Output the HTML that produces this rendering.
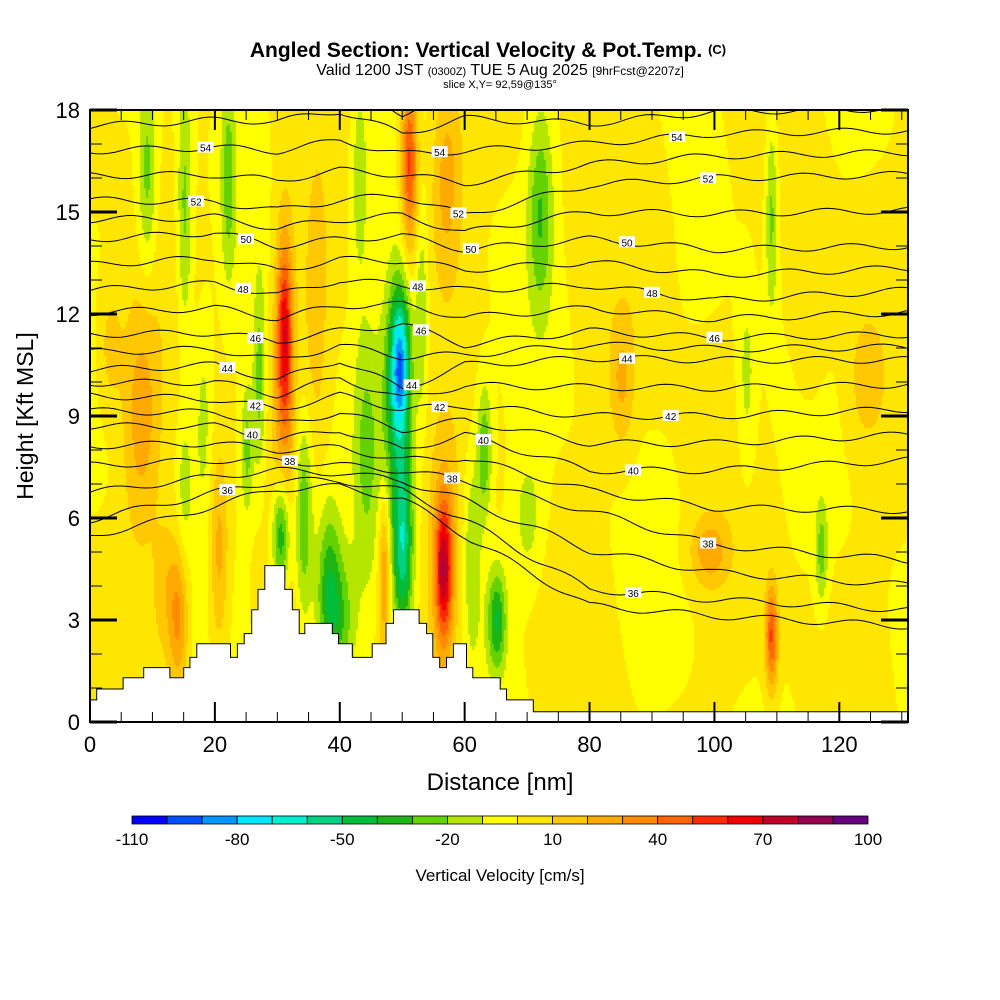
<!DOCTYPE html>
<html><head><meta charset="utf-8"><style>
body{margin:0;background:#fff;width:1000px;height:1000px;overflow:hidden;font-family:"Liberation Sans",sans-serif}
#wrap{position:relative;width:1000px;height:1000px}
canvas{position:absolute;left:90px;top:110px}
svg{position:absolute;left:0;top:0}
</style></head><body>
<div id="wrap">
<canvas id="field" width="818" height="612"></canvas>
<svg id="svg" width="1000" height="1000"></svg>
</div>
<script>
// ---- data ----
const xMax = 131, yMax = 18;
const baseValue = 1;
const featX = [9,8,15,15,14,22,20.5,31,31,30.5,34,38,47,36,49.5,49,50,51,56.5,56.5,65,63,57,72,43,85,99,109,109,117,61,3,124,25,105,27,44,53,40,18,12,70,90,115];
const featY = [16,9,15,7,3,16,5,11.5,9,5.5,6,4,4.5,12,10.5,9,5,16.5,4.5,4.5,3,8,16,15,16,10,5,2.5,15,5,5,11,10,8,10,10,8,12,3,9,4,6,14,12];
const featW = [1.5,3,1.2,1.2,1.5,1.2,1.5,1.2,2,1.5,1.5,2,1,2,1.5,2.5,1.5,1.3,1.3,2.5,1.5,1.2,2.5,2,1.5,2,3,1,1,1,1.5,2,3,1,1.5,1,2,1,2.5,1.5,2,2.5,3,3];
const featH = [3,3.5,4,2,2,3,3,2.5,6,1.8,3,2.5,2.5,4,2,4.5,2.5,2.5,2,3.5,1.5,2,3,3,3,2,1,1.5,3,1.5,3,2,2,2,3,3,4,3,2,3,2,2,3,3];
const featV = [-25,25,-25,-15,30,-25,25,50,25,-55,-35,-35,35,15,-65,-35,-45,55,55,25,-40,-30,25,-30,-20,20,25,50,-25,-25,-20,15,12,-25,-15,-25,-20,-20,-25,-15,15,-15,8,8];
const terrainX = [0,1.07,5.3,8.6,12.8,15,16,17.1,22.5,23.6,24.7,25.9,26.9,28,31.2,32.4,33.5,34.4,38.8,39.8,42,45.2,47.4,48.6,52.7,53.9,54.9,56,57.1,58.2,60.3,61.3,65.7,66.7,71,131];
const terrainH = [0.65,0.97,1.3,1.6,1.3,1.6,1.9,2.3,1.9,2.3,2.6,3.3,3.9,4.6,3.9,3.3,2.6,2.9,2.6,2.3,1.9,2.3,2.9,3.3,2.9,2.6,1.9,1.6,1.9,2.3,1.6,1.3,0.97,0.65,0.3,0.3];
const thetaNodes = [0,20,30,40,50,60,80,100,131];
const thetaLevels = [36,38,40,42,44,46,48,50,52,54];
const theta36 = [5.95,6.75,7.1,7.1,6.8,5.95,3.9,3.6,3.3];
const theta38 = [7.55,7.7,7.7,7.55,7.4,7.1,6.2,5.2,4.75];
const theta40 = [8.7,8.7,8.3,8.6,8.0,8.45,7.4,7.4,7.7];
const theta42 = [9.6,9.5,9.2,9.6,9.2,9.3,9.0,9.0,9.2];
const theta44 = [10.35,10.5,10.05,10.65,9.8,10.5,10.7,10.65,10.65];
const theta46 = [11.4,11.45,11.2,11.5,11.7,11.1,11.5,11.3,11.4];
const theta48 = [12.7,12.9,12.55,13.0,12.85,12.7,12.85,12.4,12.7];
const theta50 = [14.2,14.4,14.0,14.2,14.3,13.9,14.2,13.9,14.0];
const theta52 = [15.35,15.3,15.05,15.35,15.5,14.9,15.8,16.0,16.1];
const theta54 = [16.8,16.9,16.8,17.1,16.7,16.8,17.0,17.3,17.4];
const labelLevel = [54,52,50,48,46,44,42,40,38,36,54,52,50,48,46,44,42,40,38,54,52,50,48,46,44,42,40,38,36];
const labelX = [18.5,17,25,24.5,26.5,22,26.5,26,32,22,56,59,61,52.5,53,51.5,56,63,58,94,99,86,90,100,86,93,87,99,87];
const cbLabels = [-110,-80,-50,-20,10,40,70,100];
const palette = ["#0000ff","#0050ff","#0096ff","#00e6ff","#00f0d2","#00d282","#00be3c","#1eb414","#64d200","#b4e600","#ffff00","#ffe600","#ffc800","#ffaa00","#ff8c00","#ff6400","#ff2800","#f00000","#c00028","#960050","#640080"];
// ---- scales ----
const X0=90,X1=908,Y0=722,Y1=110;
const sx = v => X0 + v/xMax*(X1-X0);
const sy = v => Y0 - v/yMax*(Y0-Y1);
const NS='http://www.w3.org/2000/svg';
const svg=document.getElementById('svg');
function mk(tag,attrs,parent){const e=document.createElementNS(NS,tag);for(const k in attrs)e.setAttribute(k,attrs[k]);(parent||svg).appendChild(e);return e;}
function colorFor(v){let i=Math.floor((v+110)/10);i=Math.max(0,Math.min(20,i));return palette[i];}
// ---- field ----
const ctx=document.getElementById('field').getContext('2d');
const cw=818,ch=612,step=2;
for(let py=0;py<ch;py+=step){
  const yv=(ch-py-1)/ch*yMax;
  for(let px=0;px<cw;px+=step){
    const xv=px/cw*xMax;
    let v=baseValue+5*Math.sin(xv*0.22+yv*0.15)*Math.cos(yv*0.3-xv*0.05);
    for(let i=0;i<featX.length;i++){
      const dx=(xv-featX[i])/featW[i],dy=(yv-featY[i])/featH[i];
      v+=featV[i]*Math.exp(-dx*dx-dy*dy);
    }
    ctx.fillStyle=colorFor(v);ctx.fillRect(px,py,step,step);
  }
}
// ---- theta contours ----
const thetaRows=[theta36,theta38,theta40,theta42,theta44,theta46,theta48,theta50,theta52,theta54];
function interpRow(row,x){for(let i=0;i<thetaNodes.length-1;i++){if(x<=thetaNodes[i+1]){const t=(x-thetaNodes[i])/(thetaNodes[i+1]-thetaNodes[i]);return row[i]+(row[i+1]-row[i])*t;}}return row[row.length-1];}
function levelHeight(level,x){
  const idx=(level-36)/2;
  if(idx<=0){const h0=interpRow(thetaRows[0],x);return h0+idx*0.8*Math.min(1.2,interpRow(thetaRows[1],x)-h0);}
  if(idx>=9)return interpRow(thetaRows[9],x)+(idx-9)*(interpRow(thetaRows[9],x)-interpRow(thetaRows[8],x));
  const lo=Math.floor(idx),t=idx-lo;
  return interpRow(thetaRows[lo],x)*(1-t)+interpRow(thetaRows[lo+1],x)*t;
}
const defs=mk('defs',{});
const cp=mk('clipPath',{id:'pclip'},defs);mk('rect',{x:X0,y:Y1,width:X1-X0,height:Y0-Y1},cp);
const cg=mk('g',{'clip-path':'url(#pclip)'});


for(let lev=35;lev<=56;lev+=1){
  let d='';
  for(let x=0;x<=xMax;x+=1){
    const w=0.1*Math.sin(x*0.45+lev*1.7);
    const y=levelHeight(lev,x)+w;
    d+=(x===0?'M':'L')+sx(x).toFixed(1)+','+sy(y).toFixed(1);
  }
  const p=mk('path',{d:d,fill:'none',stroke:'#000','stroke-width':1},cg);
  
  
}
// ---- terrain ----
let td='M'+sx(0)+','+sy(0);
for(let i=0;i<terrainX.length-1;i++){td+=' L'+sx(terrainX[i]).toFixed(1)+','+sy(terrainH[i]).toFixed(1)+' L'+sx(terrainX[i+1]).toFixed(1)+','+sy(terrainH[i]).toFixed(1);}
td+=' L'+sx(xMax)+','+sy(0)+'Z';
const terr=mk('path',{d:td,fill:'#fff',stroke:'#000','stroke-width':1});


// ---- contour labels ----
for(let i=0;i<labelLevel.length;i++){
  const x=sx(labelX[i]),y=sy(levelHeight(labelLevel[i],labelX[i]));
  const g=mk('g',{});
  
  
  mk('rect',{x:x-8,y:y-6,width:16,height:11,fill:'#fff'},g);
  const t=mk('text',{x:x,y:y+4,'font-size':10,'text-anchor':'middle','font-family':'Liberation Sans, sans-serif'},g);
  t.textContent=labelLevel[i];
}
// ---- frame & ticks ----
const fr=mk('rect',{x:X0,y:Y1,width:X1-X0,height:Y0-Y1,fill:'none',stroke:'#000','stroke-width':2});


for(let v=0;v<=130;v+=5){
  const L=v%20===0?20:10;
  mk('line',{x1:sx(v),x2:sx(v),y1:Y0,y2:Y0-L,stroke:'#000','stroke-width':v%20===0?2:1});
  mk('line',{x1:sx(v),x2:sx(v),y1:Y1,y2:Y1+L,stroke:'#000','stroke-width':v%20===0?2:1});
  if(v%20===0){const t=mk('text',{x:sx(v),y:752,'font-size':22,'text-anchor':'middle'});t.textContent=v;
    
    }
}
for(let v=0;v<=18;v++){
  const L=v%3===0?27:12;
  mk('line',{x1:X0,x2:X0+L,y1:sy(v),y2:sy(v),stroke:'#000','stroke-width':v%3===0?3:1});
  mk('line',{x1:X1,x2:X1-L,y1:sy(v),y2:sy(v),stroke:'#000','stroke-width':v%3===0?3:1});
  if(v%3===0){const t=mk('text',{x:80,y:sy(v)+8,'font-size':22,'text-anchor':'end'});t.textContent=v;
    
    }
}
// ---- colorbar ----
const cbX=132,cbW=736/21;
for(let i=0;i<21;i++){const r=mk('rect',{x:cbX+i*cbW,y:816,width:cbW,height:8,fill:palette[i],stroke:'#000','stroke-width':0.8});
  
  }
cbLabels.forEach((v,i)=>{const t=mk('text',{x:cbX+i*3*cbW,y:845,'font-size':17,'text-anchor':'middle'});t.textContent=v;
  
  });
</script>
<svg width="1000" height="1000" style="position:absolute;left:0;top:0;pointer-events:none">
<text x="488" y="57" font-size="21" font-weight="bold" text-anchor="middle">Angled Section: Vertical Velocity &amp; Pot.Temp. <tspan font-size="13" dy="-3">(C)</tspan></text>
<text x="500" y="75" font-size="16" text-anchor="middle">Valid 1200 JST <tspan font-size="11">(0300Z)</tspan> TUE 5 Aug 2025 <tspan font-size="12">[9hrFcst@2207z]</tspan></text>
<text x="500" y="88" font-size="11" text-anchor="middle">slice X,Y= 92,59@135°</text>
<text x="500" y="790" font-size="24" text-anchor="middle">Distance [nm]</text>
<text transform="translate(33,416) rotate(-90)" font-size="23" text-anchor="middle">Height [Kft MSL]</text>
<text x="500" y="881" font-size="17" text-anchor="middle">Vertical Velocity [cm/s]</text>
</svg>
</body></html>
